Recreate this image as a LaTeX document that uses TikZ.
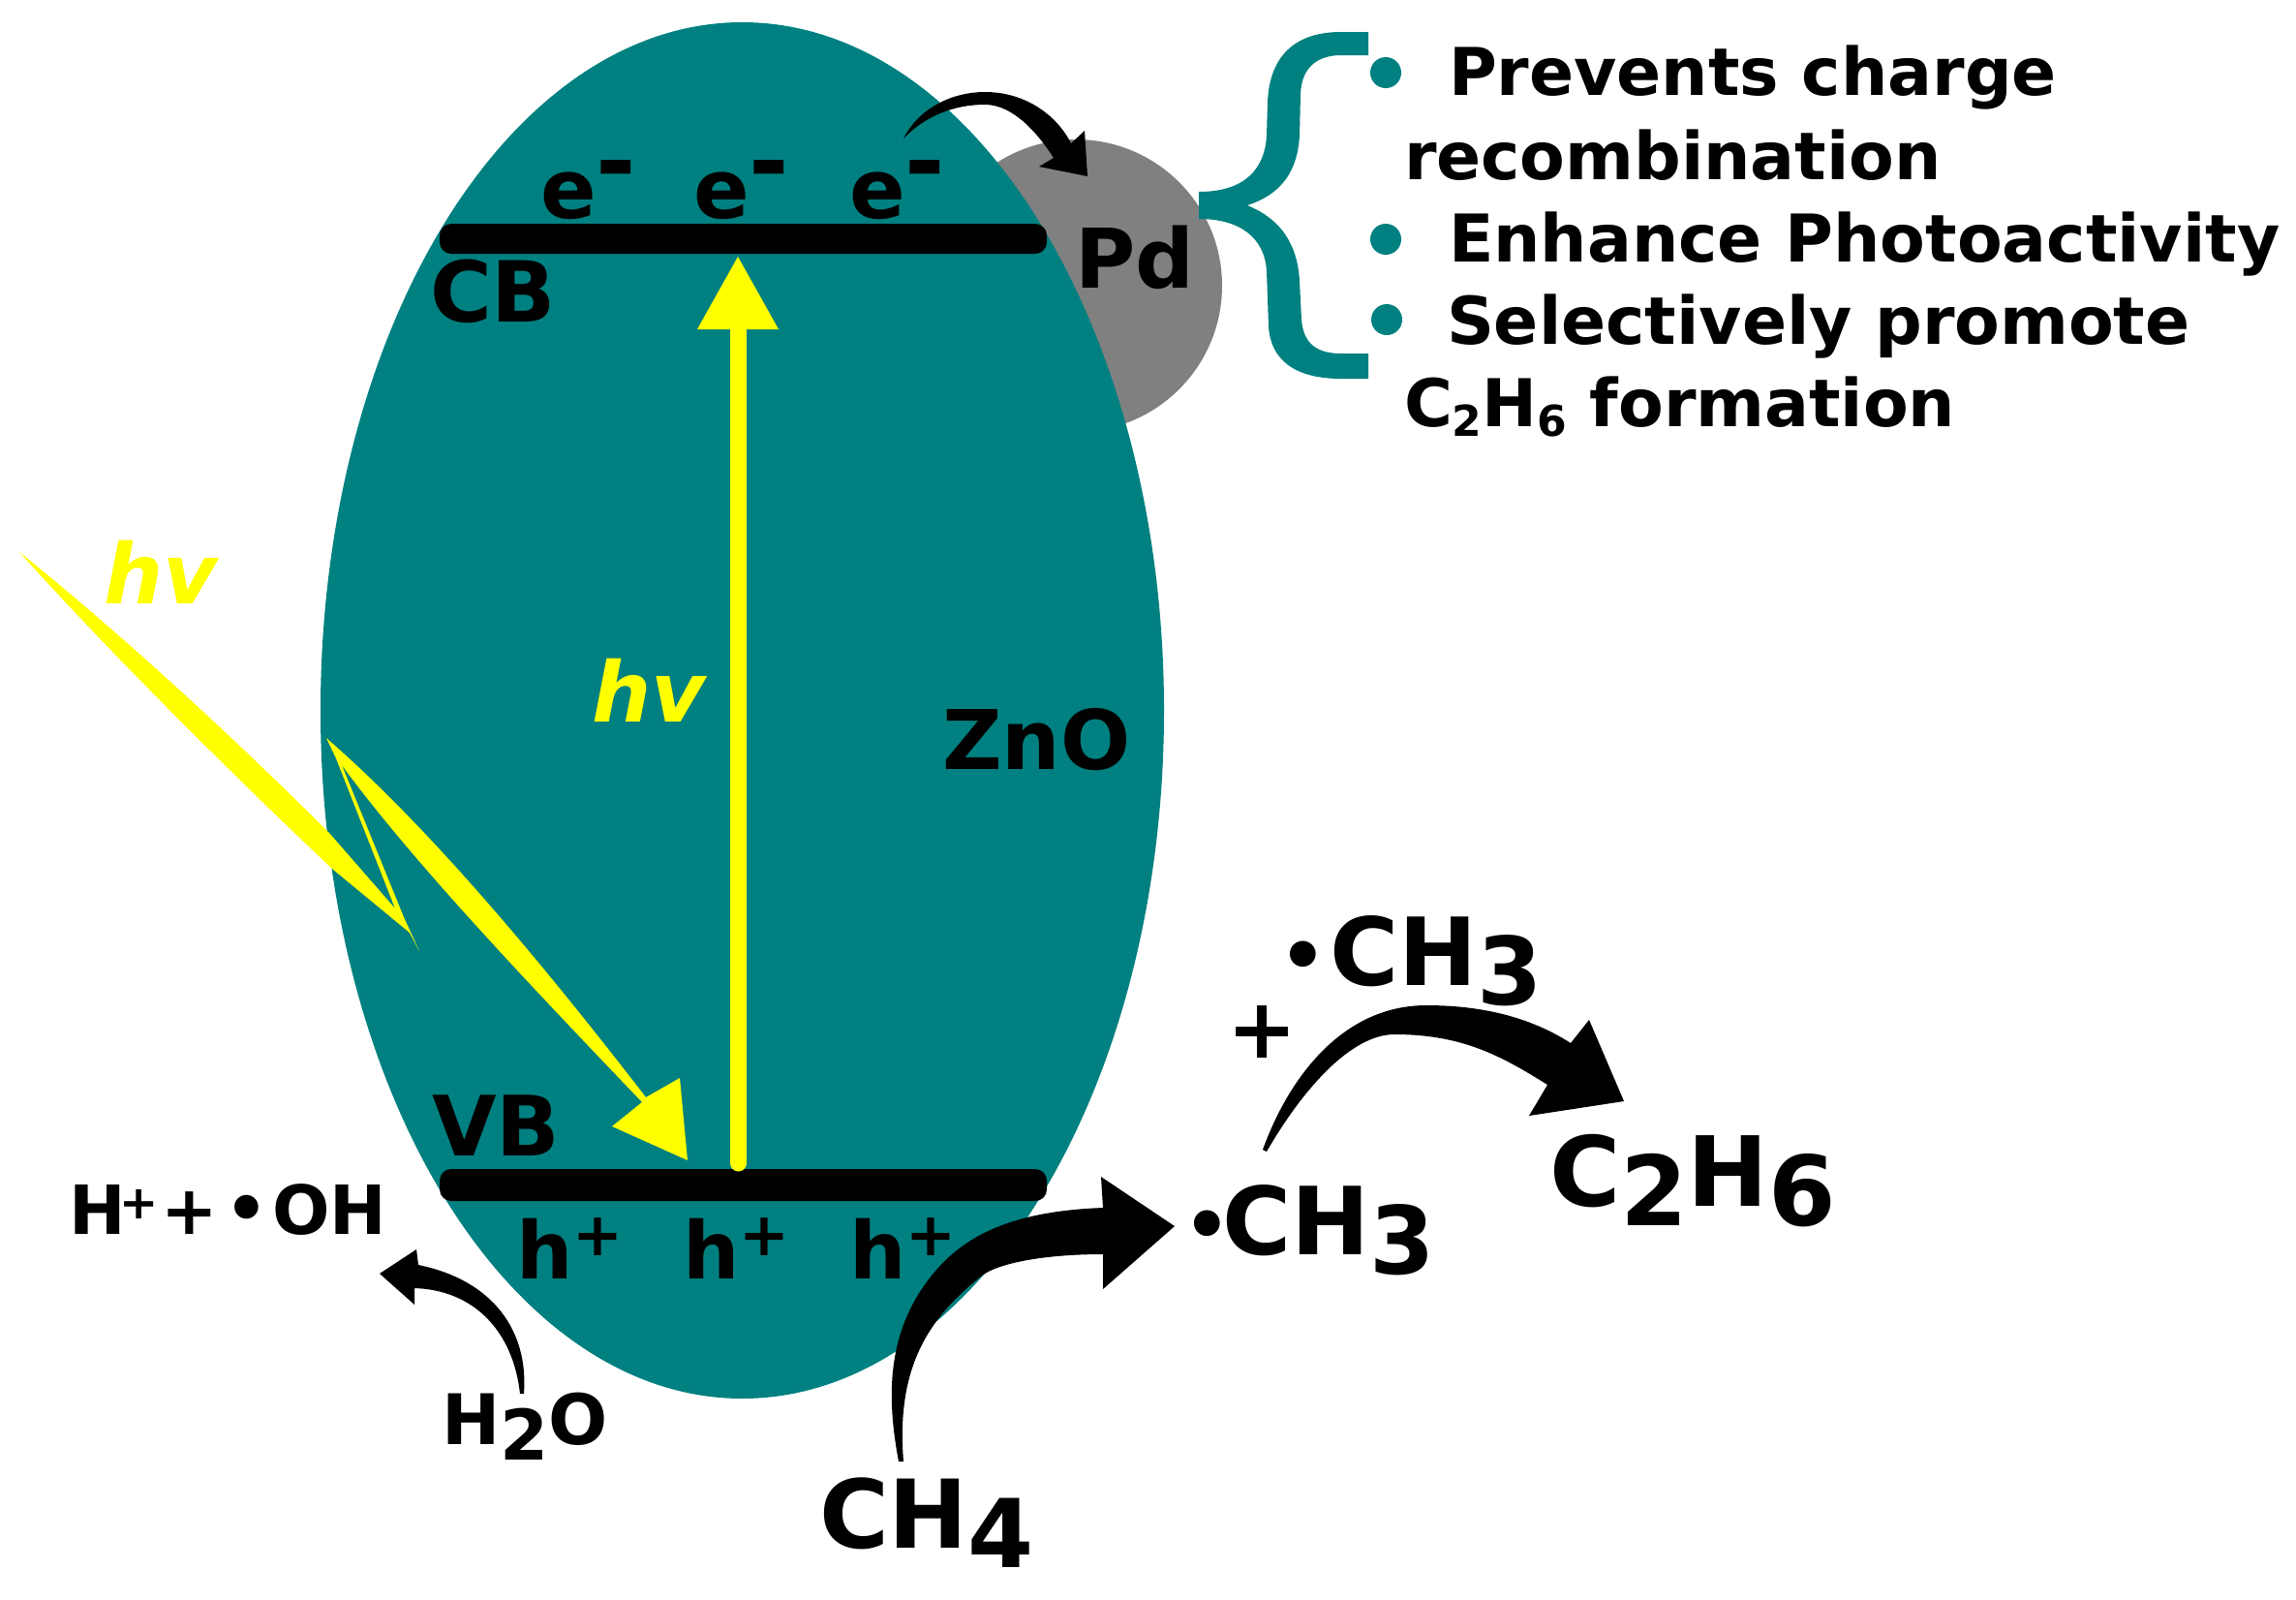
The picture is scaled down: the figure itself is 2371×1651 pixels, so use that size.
\documentclass[tikz,border=0pt]{standalone}
\usepackage{fontspec}
\setmainfont{DejaVu Sans}[BoldFont=DejaVu Sans Bold,BoldItalicFont=DejaVu Sans Bold Oblique]
\definecolor{tealbody}{HTML}{008080}
\definecolor{pdgray}{HTML}{808080}
\definecolor{lightyellow}{HTML}{FFFF00}
\newcommand{\fsz}[1]{\fontsize{#1}{#1}\selectfont\bfseries}
% lowered digit, as the picture prints it
\newcommand{\lowd}[2]{\raisebox{-#2pt}{#1}}
\newcommand{\smallsub}[1]{\raisebox{-5pt}{\fontsize{22}{22}\selectfont #1}}
\tikzset{
  lbl/.style={anchor=base west,inner sep=0pt,outer sep=0pt,text=black,font=\bfseries},
  blackshape/.style={fill=black,draw=none},
  yellowshape/.style={fill=lightyellow,draw=none},
  tealshape/.style={fill=tealbody,draw=none},
  bandbar/.style={fill=black,draw=none,rounded corners=6pt},
  bulletdot/.style={fill=tealbody,draw=none}
}
\begin{document}
\begin{tikzpicture}[x=0.5pt,y=-0.5pt]
\useasboundingbox (0,0) rectangle (2371,1651);
% particles
\fill[pdgray] (1111,295) circle [radius=151];
\fill[tealbody] (766.5,733.5) ellipse [x radius=435.5,y radius=710.5];
% bands
\path[bandbar] (454,231) rectangle (1081,262);
\path[bandbar] (454,1207) rectangle (1081,1240);
% vertical yellow arrow
\draw[lightyellow,line width=8.5pt,line cap=round] (762.5,1201) -- (762.5,330);
\path[yellowshape] (762,265) -- (804,340) -- (720,340) -- cycle;
% lightning arrow
\path[yellowshape] (20,570) .. controls (120,650) and (240,760) .. (340,860) -- (408,938) -- (347,783) -- (337,762)
  .. controls (450,860) and (572,1010) .. (667,1133)
  -- (702,1113) -- (710,1198) -- (632,1163) -- (663,1138)
  .. controls (560,1030) and (430,895) .. (353,790)
  -- (417,947) -- (433,982) -- (423,963) -- (343,897)
  .. controls (230,790) and (110,670) .. (20,570) -- cycle;
% curved arrows
\path[blackshape] (933,143) .. controls (950,110) and (985,95) .. (1017,95)
  .. controls (1060,95) and (1092,120) .. (1106,148) -- (1120,135) -- (1123,182) -- (1073,172) -- (1088,163)
  .. controls (1070,135) and (1045,108) .. (1017,108) .. controls (985,108) and (955,120) .. cycle;
\path[blackshape] (928,1509) .. controls (915,1440) and (915,1370) .. (968,1310)
  .. controls (1005,1268) and (1060,1250) .. (1139,1247) -- (1137,1215) -- (1213,1266) -- (1139,1331) -- (1139,1295)
  .. controls (1075,1295) and (1030,1305) .. (1014,1317) .. controls (960,1360) and (925,1410) .. (933,1509) -- cycle;
\path[blackshape] (1304,1187) .. controls (1330,1115) and (1385,1038) .. (1473,1038)
  .. controls (1530,1038) and (1580,1050) .. (1622,1077) -- (1641,1053) -- (1677,1137) -- (1579,1152) -- (1598,1120)
  .. controls (1550,1090) and (1510,1068) .. (1440,1068) .. controls (1395,1068) and (1345,1125) .. (1308,1189) -- cycle;
\path[blackshape] (541,1439) .. controls (546,1375) and (510,1322) .. (432,1306) -- (430,1290) -- (392,1315) -- (428,1347) -- (428,1330)
  .. controls (490,1332) and (530,1375) .. (537,1439) -- cycle;
% brace
\path[tealshape] (1413,33) -- (1385,33) .. controls (1335,33) and (1311,60) .. (1309,105) -- (1308,140)
  .. controls (1306,175) and (1285,198) .. (1238,198) -- (1238,226)
  .. controls (1280,226) and (1306,245) .. (1308,280) -- (1310,337)
  .. controls (1312,370) and (1335,391) .. (1385,391) -- (1413,391) -- (1413,365) -- (1385,365)
  .. controls (1360,365) and (1346,355) .. (1344,330) -- (1342,290)
  .. controls (1340,255) and (1325,227) .. (1288,212)
  .. controls (1325,200) and (1340,175) .. (1342,140) -- (1343,97)
  .. controls (1344,70) and (1360,57) .. (1385,57) -- (1413,57) -- cycle;
\path[bulletdot] (1431,75) circle [radius=16];
\path[bulletdot] (1431,247) circle [radius=16];
\path[bulletdot] (1432,330) circle [radius=16];
% right list
\node[lbl,font=\fsz{34}] (t1) at (1496,98) {Prevents charge};
\node[lbl,font=\fsz{34}] (t2) at (1450,185) {recombination};
\node[lbl,font=\fsz{34}] (t3) at (1496,270) {Enhance Photoactivity};
\node[lbl,font=\fsz{34}] (t4) at (1494,355) {Selectively promote};
\node[lbl,font=\fsz{34}] (t5) at (1450,440) {C\smallsub{2}H\smallsub{6} formation};
% band labels
\foreach \n/\xx in {a/558,b/716,c/877}{
  \node[lbl,font=\fsz{42.5}] (e\n) at (\xx,225) {e\raisebox{12pt}{\fontsize{50}{50}\selectfont -}};
}
\foreach \n/\xx in {a/533,b/705,c/877}{
  \node[lbl,font=\fsz{41}] (h\n) at (\xx,1320) {h\raisebox{12pt}{\fontsize{31}{31}\selectfont +}};
}
\node[lbl,font=\fsz{43.5}] (cb) at (444,332) {CB};
\node[lbl,font=\fsz{43}] (vb) at (446,1193) {VB};
\node[lbl,font=\fsz{42.5}] (pd) at (1110,297) {Pd};
\node[lbl,font=\fsz{42.5}] (zno) at (973,794) {ZnO};
\node[lbl,font=\fsz{43}\itshape,text=lightyellow] (hv1) at (107,623) {hv};
\node[lbl,font=\fsz{43}\itshape,text=lightyellow] (hv2) at (611,745) {hv};
% species
\node[lbl,font=\fsz{35}] (oh) at (71,1274) {H\kern-3pt\raisebox{8pt}{\fontsize{24}{24}\selectfont +}\kern1.5pt+\kern3.5pt\raisebox{1pt}{•}\kern2ptOH};
\node[lbl,font=\fsz{36}] (h2o) at (456,1491) {H\lowd{2}{8}O};
\node[lbl,font=\fsz{49}] (ch4) at (846,1598) {CH\lowd{4}{10}};
\node[lbl,font=\fsz{48.5}] (ch3a) at (1222,1295) {\raisebox{2pt}{\fontsize{38}{38}\selectfont •}\kern-4ptCH\lowd{3}{10}};
\node[lbl,font=\fsz{48.5}] (ch3b) at (1321,1017) {\raisebox{2pt}{\fontsize{38}{38}\selectfont •}\kern2ptCH\lowd{3}{10}};
\node[lbl,font=\fsz{50}] (c2h6) at (1600,1245) {C\lowd{2}{10}H\lowd{6}{10}};
\node[lbl,font=\fsz{43}] (plus) at (1267,1092) {+};
\end{tikzpicture}
\end{document}
